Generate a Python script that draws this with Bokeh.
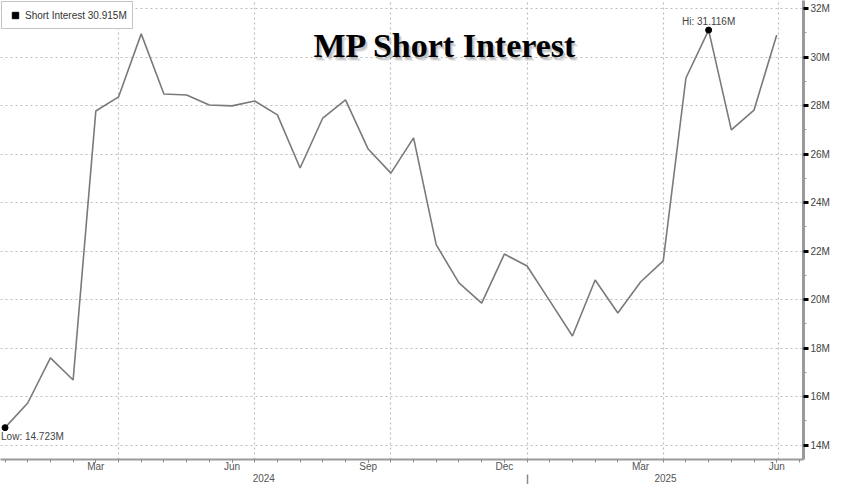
from bokeh.plotting import figure
from bokeh.models import FixedTicker, LinearAxis, Legend, LegendItem
from bokeh.core.properties import value
from bokeh.embed import file_html
from bokeh.resources import INLINE

# ---- data (semi-monthly short interest, millions of shares) ----
short_interest = [14.723, 15.74, 17.60, 16.69, 27.78, 28.36, 30.96, 28.48, 28.44, 28.03,
                  27.99, 28.19, 27.62, 25.43, 27.49, 28.24, 26.21, 25.22, 26.67, 22.26,
                  20.69, 19.86, 21.88, 21.39, 19.95, 18.50, 20.81, 19.45, 20.73, 21.60,
                  29.14, 31.116, 27.00, 27.82, 30.915]
obs = list(range(len(short_interest)))

month_labels = ["Mar", "Jun", "Sep", "Dec", "Mar", "Jun"]
month_label_pos = [4, 10, 16, 22, 28, 34]
month_grid_pos = [5, 11, 17, 23, 29, 34.1]
year_labels = ["2024", "2025"]
year_label_pos = [11.4, 29.1]
year_break_pos = [23]
y_major = list(range(14, 33, 2))
y_minor = list(range(15, 32, 2))

FONT = "Liberation Sans"
GRID = "#bdbdbd"

p = figure(width=832, height=484, x_range=(-0.2, 35.18), y_range=(13.41, 32.336),
           y_axis_location="right", output_backend="svg", toolbar_location=None,
           min_border_left=0, min_border_top=0, min_border_right=0, min_border_bottom=0)
p.outline_line_color = None
p.background_fill_color = "white"
p.border_fill_color = "white"

# grids
p.xgrid.ticker = FixedTicker(ticks=month_grid_pos)
p.ygrid.ticker = FixedTicker(ticks=y_major)
for g in (p.xgrid, p.ygrid):
    g.grid_line_color = GRID
    g.grid_line_dash = "2 3"
    g.grid_line_width = 1.2

# right y axis
ya = p.yaxis[0]
ya.ticker = FixedTicker(ticks=y_major, minor_ticks=y_minor)
ya.major_label_overrides = {v: f"{v}M" for v in y_major}
ya.axis_line_color = "#9a9a9a"
ya.axis_line_width = 3
ya.major_tick_line_color = "black"
ya.major_tick_line_width = 3
ya.major_tick_out = 5
ya.major_tick_in = 0
ya.minor_tick_line_color = "#9a9a9a"
ya.minor_tick_out = 3
ya.minor_tick_in = 0
ya.major_label_standoff = 2
ya.major_label_text_font = FONT
ya.major_label_text_font_size = "10px"
ya.major_label_text_color = "#444444"

# bottom x axis (months)
xa = p.xaxis[0]
xa.ticker = FixedTicker(ticks=month_label_pos, minor_ticks=obs + [len(obs)])
xa.major_label_overrides = {pos: lab for pos, lab in zip(month_label_pos, month_labels)}
xa.axis_line_color = "#9a9a9a"
xa.axis_line_width = 2
for attr in ("major", "minor"):
    setattr(xa, f"{attr}_tick_line_color", "#8a8a8a")
    setattr(xa, f"{attr}_tick_out", 3)
    setattr(xa, f"{attr}_tick_in", 0)
xa.major_label_standoff = -2
xa.major_label_text_font = FONT
xa.major_label_text_font_size = "10px"
xa.major_label_text_color = "#555555"

# year axis (labels + separator)
yr = LinearAxis(ticker=FixedTicker(ticks=year_label_pos, minor_ticks=year_break_pos))
yr.major_label_overrides = {pos: lab for pos, lab in zip(year_label_pos, year_labels)}
yr.axis_line_color = None
yr.major_tick_line_color = None
yr.major_tick_out = 0
yr.major_tick_in = 0
yr.minor_tick_line_color = "#8a8a8a"
yr.minor_tick_line_width = 1.5
yr.minor_tick_out = 13
yr.minor_tick_in = 0
yr.major_label_standoff = -14
yr.major_label_text_font = FONT
yr.major_label_text_font_size = "10px"
yr.major_label_text_color = "#555555"
p.add_layout(yr, "below")

# series line
p.line(obs, short_interest, line_color="#7a7a7a", line_width=1.6)

# hi / low markers and labels
i_lo = min(obs, key=lambda i: short_interest[i])
i_hi = max(obs, key=lambda i: short_interest[i])
p.scatter([i_lo, i_hi], [short_interest[i_lo], short_interest[i_hi]], size=6,
          color="black")
p.text([i_lo], [short_interest[i_lo]], text=[f"Low: {short_interest[i_lo]:.3f}M"],
       text_font=value(FONT), text_font_size="10px", text_color="#444444",
       text_align="left", text_baseline="top", x_offset=-4, y_offset=3)
p.text([i_hi], [short_interest[i_hi]], text=[f"Hi: {short_interest[i_hi]:.3f}M"],
       text_font=value(FONT), text_font_size="10px", text_color="#444444",
       text_align="center", text_baseline="bottom", x_offset=0, y_offset=-3)

# title with soft shadow
title = "MP Short Interest"
for dx, dy, a in ((3, 4, 0.18), (2, 3, 0.25), (1, 2, 0.25)):
    p.text([19.4], [30.5], text=[title], text_font=value("Liberation Serif"),
           text_font_size="34px", text_font_style="bold", text_color="#808080",
           text_alpha=a, text_align="center", text_baseline="alphabetic",
           x_offset=dx, y_offset=dy)
p.text([19.4], [30.5], text=[title], text_font=value("Liberation Serif"),
       text_font_size="34px", text_font_style="bold", text_color="black",
       text_align="center", text_baseline="alphabetic")

# legend
sq = p.scatter([float("nan")], [float("nan")], marker="square", size=9, color="black")
legend = Legend(items=[LegendItem(label=f"Short Interest {short_interest[-1]:.3f}M",
                                  renderers=[sq])],
                location="top_left")
legend.margin = 1
legend.padding = 5
legend.glyph_width = 16
legend.glyph_height = 16
legend.label_height = 14
legend.label_standoff = 2
legend.label_text_font = FONT
legend.label_text_font_size = "10px"
legend.label_text_color = "#333333"
legend.border_line_color = "#8a8a8a"
legend.border_line_width = 1.5
legend.background_fill_color = "white"
legend.background_fill_alpha = 1
p.add_layout(legend)

open("out.html", "w").write(file_html(p, INLINE))
